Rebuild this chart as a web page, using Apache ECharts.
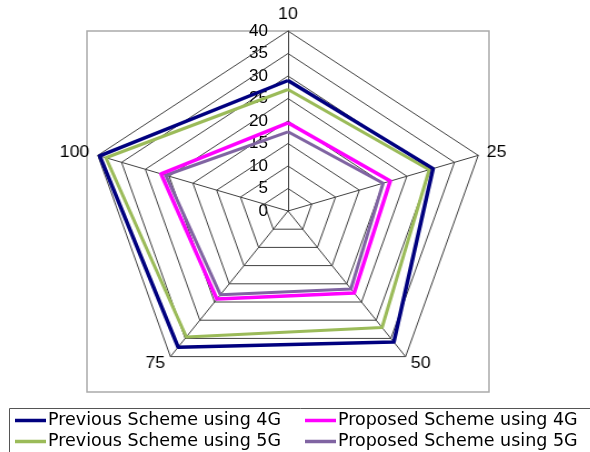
<!DOCTYPE html>
<html>
<head>
<meta charset="utf-8">
<script src="https://cdn.jsdelivr.net/npm/echarts@6/dist/echarts.min.js"></script>
<style>
  html, body { margin: 0; padding: 0; background: #fff; }
  #wrap { position: relative; width: 590px; height: 452px; overflow: hidden; }
  #base, #radar { position: absolute; left: 0; top: 0; width: 590px; height: 452px; }
  /* the radar is drawn a little wider than tall */
  #radar { transform-origin: 288px 211px; transform: scaleX(1.1111); pointer-events: none; }
</style>
</head>
<body>
<div id="wrap">
  <div id="base"></div>
  <div id="radar"></div>
</div>
<script>
// Spokes, listed in drawing order (top first, then round the pentagon)
const axisNames = ['10', '100', '75', '50', '25'];

// Scale of the rings and their tick labels
const scaleMin = 0;
const scaleMax = 40;
const scaleStep = 5;

const seriesNames = [
  'Previous Scheme using 4G',
  'Proposed Scheme using 4G',
  'Previous Scheme using 5G',
  'Proposed Scheme using 5G'
];

// Values per spoke, same order as axisNames
const prev4G = [29.0, 39.6, 37.4, 36.0, 30.5];
const prop4G = [19.6, 26.7, 24.2, 22.5, 21.5];
const prev5G = [27.0, 38.3, 34.6, 32.0, 29.7];
const prop5G = [17.6, 25.7, 23.0, 21.4, 20.0];

const colors = ['#00007f', '#ff00ff', '#9bbb59', '#8064a2'];
const widths = [3.5, 3.5, 3, 3];
const values = [prev4G, prop4G, prev5G, prop5G];

const digitFont = '"Liberation Sans", Arial, sans-serif';
const legendFont = '"DejaVu Sans", sans-serif';

// ---- base layer: frame, ring labels, legend ----
const base = echarts.init(document.getElementById('base'), null, { renderer: 'canvas' });

const legendCommon = {
  orient: 'vertical', top: 410, itemGap: 0, padding: 0, height: 60,
  icon: 'rect', itemWidth: 31, itemHeight: 3.5,
  textStyle: { fontSize: 17.5, fontFamily: legendFont, color: '#000', lineHeight: 21, padding: [0, 0, 0, -3] }
};

base.setOption({
  backgroundColor: '#ffffff',
  animation: false,
  grid: { left: 289, top: 31, height: 180, width: 1, show: false },
  xAxis: { type: 'value', show: false, min: 0, max: 1 },
  yAxis: {
    type: 'value',
    min: scaleMin,
    max: scaleMax,
    interval: scaleStep,
    axisLine: { show: false },
    axisTick: { show: false },
    splitLine: { show: false },
    axisLabel: {
      margin: 21,
      color: '#000',
      fontSize: 17,
      fontFamily: digitFont
    }
  },
  graphic: [
    {
      type: 'rect', z: -1,
      shape: { x: 87, y: 31, width: 402, height: 361 },
      style: { fill: 'none', stroke: '#aaaaaa', lineWidth: 1.5 }
    },
    {
      type: 'rect', z: -1,
      shape: { x: 9.5, y: 408.5, width: 600, height: 80 },
      style: { fill: 'none', stroke: '#555555', lineWidth: 1 }
    }
  ],
  legend: [
    Object.assign({}, legendCommon, { left: 15, data: [seriesNames[0], seriesNames[2]] }),
    Object.assign({}, legendCommon, { left: 305, data: [seriesNames[1], seriesNames[3]] })
  ],
  series: seriesNames.map((name, i) => ({
    name: name,
    type: 'line',
    data: [],
    color: colors[i],
    lineStyle: { width: widths[i] }
  }))
});

// ---- radar layer ----
const radar = echarts.init(document.getElementById('radar'), null, { renderer: 'canvas' });
radar.setOption({
  animation: false,
  radar: {
    center: [288, 211],
    radius: 180,
    startAngle: 90,
    splitNumber: (scaleMax - scaleMin) / scaleStep,
    shape: 'polygon',
    nameGap: 8,
    indicator: axisNames.map(n => ({ name: n, min: scaleMin, max: scaleMax })),
    axisName: { color: '#000', fontSize: 16, fontFamily: digitFont },
    axisLine: { lineStyle: { color: '#404040', width: 1 } },
    splitLine: { lineStyle: { color: '#404040', width: 1 } },
    splitArea: { show: false },
    axisLabel: { show: false }
  },
  series: [{
    type: 'radar',
    symbol: 'none',
    data: [2, 3, 0, 1].map(i => ({
      name: seriesNames[i],
      value: values[i],
      lineStyle: { color: colors[i], width: widths[i] },
      itemStyle: { color: colors[i] }
    }))
  }]
});
</script>
</body>
</html>
